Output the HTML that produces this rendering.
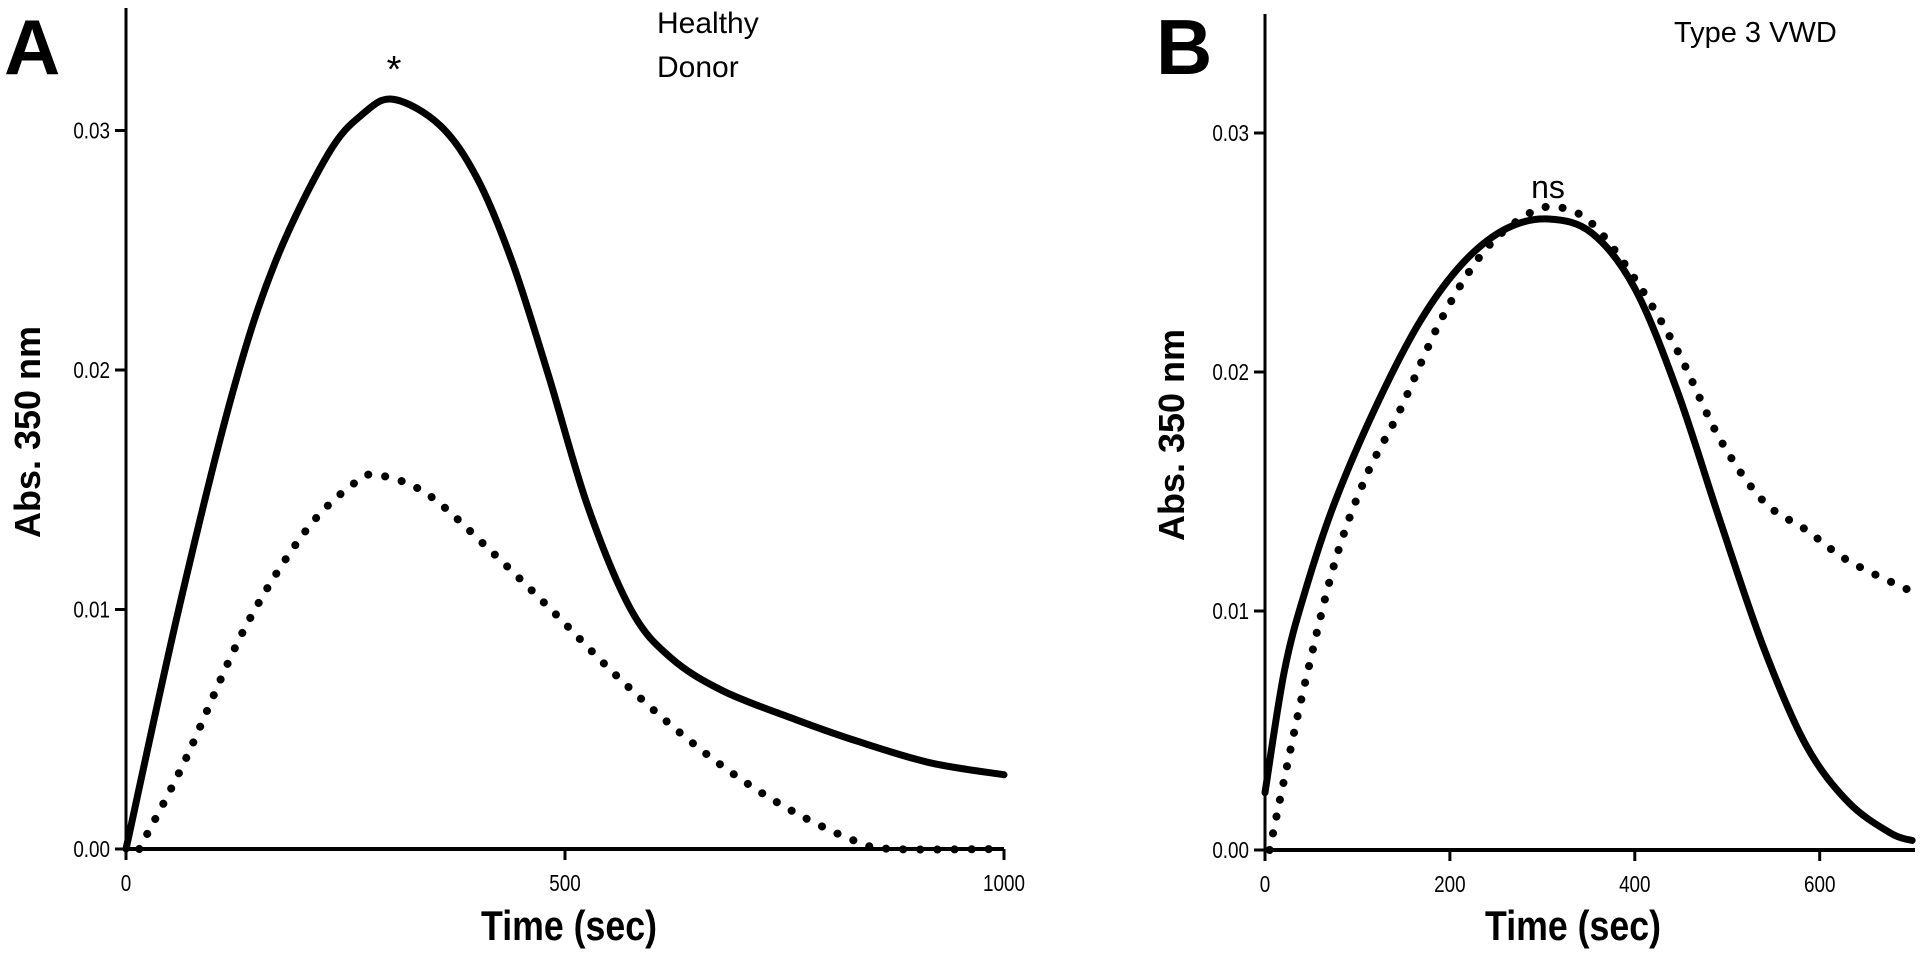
<!DOCTYPE html>
<html><head><meta charset="utf-8"><style>
html,body{margin:0;padding:0;background:#fff;}
svg{display:block;}
text{font-family:"Liberation Sans",Arial,sans-serif;fill:#000;}
</style></head><body>
<svg id="chart" width="1920" height="956" viewBox="0 0 1920 956" xmlns="http://www.w3.org/2000/svg"></svg>
<script>
// Panel A data (Healthy Donor)
const aSolidT = [0,60,121,170,230,270,305,358,400,440,481,526,575,620,680,763,833,916,1000];
const aSolidV = [0,0.0100,0.0190,0.0245,0.0290,0.0307,0.0313,0.0302,0.0280,0.0245,0.0198,0.0143,0.0100,0.0080,0.0066,0.0054,0.0045,0.0036,0.0031];
const aDotT = [15,66,135,205,261,289,344,414,484,554,623,693,763,833,874,1000];
const aDotV = [0,0.0036,0.0092,0.0133,0.0153,0.0156,0.0148,0.0125,0.0100,0.0074,0.0051,0.0031,0.0015,0.0003,0,0];
// Panel B data (Type 3 VWD)
const bSolidT = [0,21,44,76,123,169,215,261,307,354,400,446,492,539,585,631,677,700];
const bSolidV = [0.0024,0.0075,0.0109,0.0146,0.0188,0.0222,0.0246,0.0260,0.0264,0.0258,0.0235,0.0192,0.0138,0.0085,0.0044,0.0020,0.0007,0.0004];
const bDotT = [5,21,44,76,109,146,192,238,284,317,354,400,446,492,539,585,631,695];
const bDotV = [0,0.0030,0.0071,0.0121,0.0156,0.0184,0.0223,0.0251,0.0266,0.0269,0.0262,0.0239,0.0209,0.0172,0.0146,0.0134,0.0121,0.0109];
const yTickVals = [0,0.01,0.02,0.03];
const yTickLabels = ["0.00","0.01","0.02","0.03"];
const aXTicks = [0,500,1000];
const bXTicks = [0,200,400,600];

const NS="http://www.w3.org/2000/svg";
const svg=document.getElementById('chart');
function mk(tag,attrs,parent){const e=document.createElementNS(NS,tag);for(const k in attrs)e.setAttribute(k,attrs[k]);(parent||svg).appendChild(e);return e;}
function smooth(pts){let d=`M${pts[0][0]},${pts[0][1]}`;for(let i=0;i<pts.length-1;i++){const p0=pts[i-1]||pts[i],p1=pts[i],p2=pts[i+1],p3=pts[i+2]||p2;
const c1x=p1[0]+(p2[0]-p0[0])/6,c1y=p1[1]+(p2[1]-p0[1])/6,c2x=p2[0]-(p3[0]-p1[0])/6,c2y=p2[1]-(p3[1]-p1[1])/6;
d+=` C${c1x},${c1y} ${c2x},${c2y} ${p2[0]},${p2[1]}`;}return d;}

function panel(cfg){
  const g=mk('g',{});
  
  
  const X=t=>cfg.x0+t*cfg.sx, Y=v=>cfg.y0-v*cfg.sy;
  const ya=mk('line',{x1:cfg.x0,y1:cfg.top,x2:cfg.x0,y2:cfg.y0+2,stroke:'#000','stroke-width':3},g);
  
  
  const xa=mk('line',{x1:cfg.x0-1,y1:cfg.y0,x2:cfg.xEnd,y2:cfg.y0,stroke:'#000','stroke-width':4},g);
  
  
  yTickVals.forEach((v,i)=>{
    const tk=mk('line',{x1:cfg.x0-11,y1:Y(v),x2:cfg.x0,y2:Y(v),stroke:'#000','stroke-width':3},g);
    
    
    const t=mk('text',{x:0,y:0,'font-size':23,'text-anchor':'end',transform:`translate(${cfg.x0-16},${Y(v)+8}) scale(0.82,1)`},g);
    t.textContent=yTickLabels[i];
    
    
  });
  cfg.xticks.forEach(v=>{
    const tk=mk('line',{x1:X(v),y1:cfg.y0,x2:X(v),y2:cfg.y0+11,stroke:'#000','stroke-width':3},g);
    
    
    const t=mk('text',{x:0,y:0,'font-size':23,'text-anchor':'middle',transform:`translate(${X(v)},${cfg.y0+42}) scale(0.82,1)`},g);
    t.textContent=String(v);
    
    
  });
  const sp=cfg.solidT.map((t,i)=>[X(t),Y(cfg.solidV[i])]);
  const s=mk('path',{d:smooth(sp),fill:'none',stroke:'#000','stroke-width':7,'stroke-linejoin':'round','stroke-linecap':'round'},g);
  
  
  const dp=cfg.dotT.map((t,i)=>[X(t),Y(cfg.dotV[i])]);
  const d=mk('path',{d:smooth(dp),fill:'none',stroke:'#000','stroke-width':8,'stroke-dasharray':'0.1 17','stroke-linecap':'round'},g);
  
  
}
panel({name:'panel-a',x0:126,y0:849,sx:0.878,sy:23950,top:8,xEnd:1004,xticks:aXTicks,solidT:aSolidT,solidV:aSolidV,dotT:aDotT,dotV:aDotV});
panel({name:'panel-b',x0:1265,y0:850,sx:0.9245,sy:23900,top:14,xEnd:1915,xticks:bXTicks,solidT:bSolidT,solidV:bSolidV,dotT:bDotT,dotV:bDotV});
</script>
<svg width="1920" height="956" style="position:absolute;left:0;top:0" xmlns="http://www.w3.org/2000/svg">
<text x="4" y="74" font-size="78" font-weight="bold">A</text>
<text x="1156" y="74" font-size="78" font-weight="bold">B</text>
<text x="657" y="33" font-size="30">Healthy</text>
<text x="657" y="77" font-size="30">Donor</text>
<text x="1674" y="42" font-size="29">Type 3 VWD</text>
<text x="394" y="82" font-size="38" text-anchor="middle">*</text>
<text x="1548" y="198" font-size="32" text-anchor="middle">ns</text>
<text transform="translate(40,432) rotate(-90)" font-size="36" font-weight="bold" text-anchor="middle">Abs. 350 nm</text>
<text transform="translate(1184,435) rotate(-90)" font-size="36" font-weight="bold" text-anchor="middle">Abs. 350 nm</text>
<text transform="translate(569,940) scale(0.85,1)" font-size="42" font-weight="bold" text-anchor="middle">Time (sec)</text>
<text transform="translate(1573,940) scale(0.85,1)" font-size="42" font-weight="bold" text-anchor="middle">Time (sec)</text>
</svg>
</body></html>
